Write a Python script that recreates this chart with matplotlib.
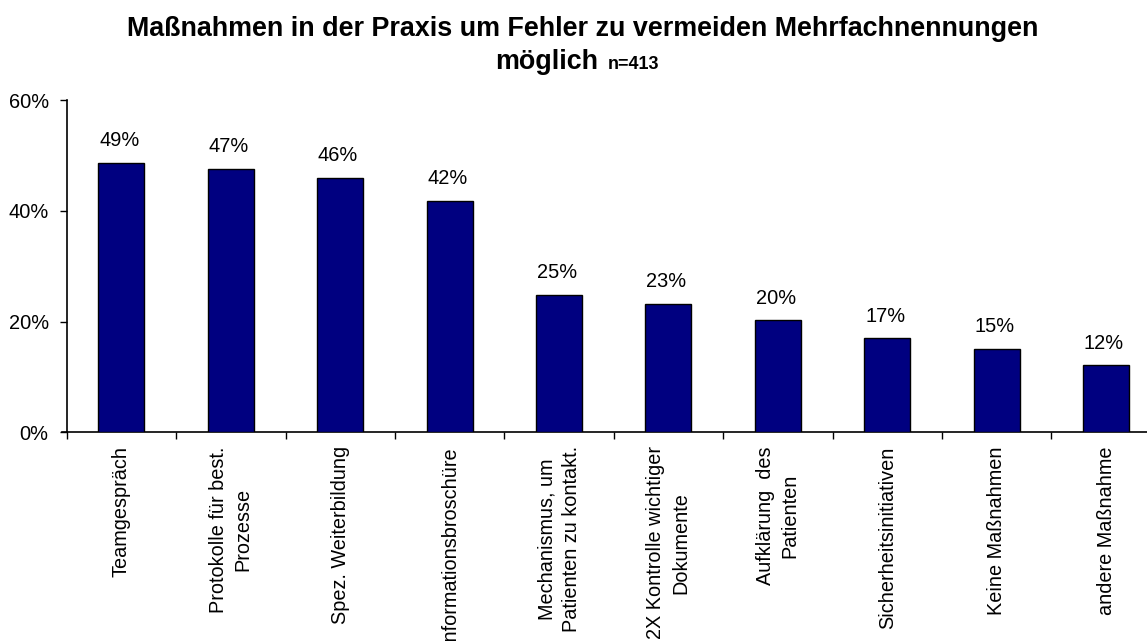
import matplotlib
matplotlib.use("Agg")
import matplotlib.pyplot as plt
from matplotlib.ticker import FuncFormatter, FixedLocator, NullFormatter

plt.rcParams['font.family'] = ['Liberation Sans', 'DejaVu Sans']

categories = [
    "Teamgespräch",
    "Protokolle für best.\nProzesse",
    "Spez. Weiterbildung",
    "Informationsbroschüre",
    "Mechanismus, um\nPatienten zu kontakt.",
    "2X Kontrolle wichtiger\nDokumente",
    "Aufklärung  des\nPatienten",
    "Sicherheitsinitiativen",
    "Keine Maßnahmen",
    "andere Maßnahme",
]
values = [48.7, 47.6, 46.0, 41.8, 24.8, 23.2, 20.2, 17.0, 15.1, 12.1]
value_labels = ["49%", "47%", "46%", "42%", "25%", "23%", "20%", "17%", "15%", "12%"]
yticks = [0, 20, 40, 60]

W, H = 1147, 641
fig = plt.figure(figsize=(W / 100, H / 100), dpi=100)
left_px, right_px = 66.7, 1160.7
bottom_px, top_px = 432.3, 100.0
ax = fig.add_axes([left_px / W, 1 - bottom_px / H,
                   (right_px - left_px) / W, (bottom_px - top_px) / H])

x = list(range(len(categories)))
ax.bar(x, values, width=0.42, color="#000080", edgecolor="black", linewidth=1.0, zorder=3)
ax.set_xlim(-0.5, len(categories) - 0.5)
ax.set_ylim(0, 60)

for xi, v, lab in zip(x, values, value_labels):
    ax.annotate(lab, xy=(xi, v), xytext=(-1.5, 9), textcoords="offset points",
                ha="center", va="bottom", fontsize=14.4, color="black")

ax.set_yticks(yticks)
ax.yaxis.set_major_formatter(FuncFormatter(lambda v, p: f"{int(v)}%"))
ax.tick_params(axis="y", labelsize=14.4, length=5, width=1, direction="out", pad=8)

ax.xaxis.set_major_locator(FixedLocator([i - 0.5 for i in range(len(categories) + 1)]))
ax.xaxis.set_major_formatter(NullFormatter())
ax.xaxis.set_minor_locator(FixedLocator(x))
ax.set_xticklabels(categories, minor=True, rotation=90, ha="center", va="top",
                   multialignment="center", fontsize=14.3, linespacing=1.4)
ax.tick_params(axis="x", which="major", length=5, width=1, direction="out")
ax.tick_params(axis="x", which="minor", length=0, pad=10)

for s in ["top", "right"]:
    ax.spines[s].set_visible(False)
ax.spines["left"].set_linewidth(1.2)
ax.spines["bottom"].set_linewidth(1.2)
ax.spines["bottom"].set_bounds(-0.54, len(categories) - 0.5)

fig.text(582.5 / W, 1 - 36 / H, "Maßnahmen in der Praxis um Fehler zu vermeiden Mehrfachnennungen",
         ha="center", va="baseline", fontsize=19.4, fontweight="bold")
fig.text(598 / W, 1 - 69.3 / H, "möglich", ha="right", va="baseline",
         fontsize=19.4, fontweight="bold")
fig.text(607.5 / W, 1 - 69.3 / H, "n=413", ha="left", va="baseline",
         fontsize=13, fontweight="bold")

fig.savefig("out.png", dpi=100)
